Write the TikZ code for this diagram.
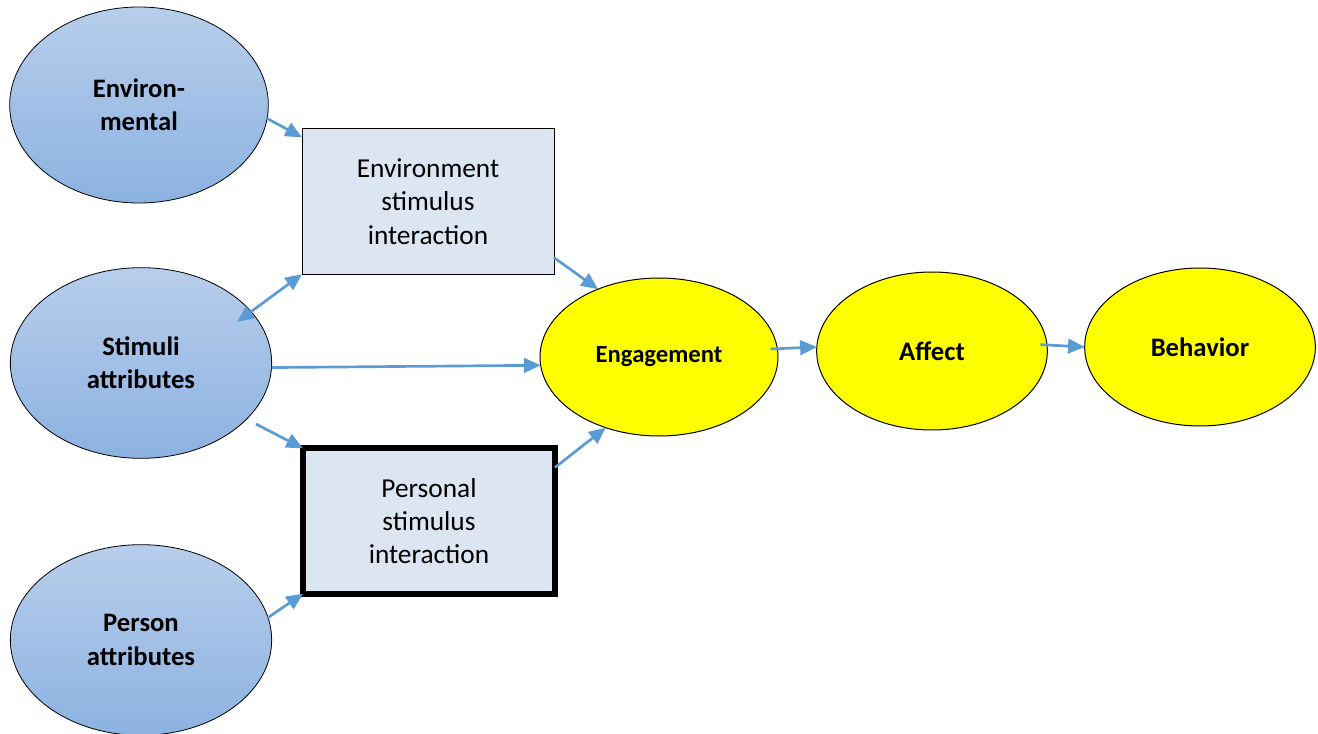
\documentclass[tikz,border=0pt]{standalone}
\usepackage{fontspec}
\setmainfont{Carlito}
\usetikzlibrary{shapes.geometric,arrows.meta}

\definecolor{srctop}{RGB}{183,206,235}
\definecolor{srcbot}{RGB}{140,178,225}
\definecolor{boxfill}{RGB}{220,230,242}
\definecolor{linkblue}{RGB}{91,155,213}
\definecolor{outfill}{RGB}{255,255,0}

\tikzset{every picture/.style={line width=0.75pt}}

\begin{document}
\begin{tikzpicture}[x=0.75pt,y=0.75pt,yscale=-1,xscale=1,
  srcnode/.style={ellipse,draw,line width=0.6pt,top color=srctop,bottom color=srcbot,
    minimum width=196pt,minimum height=143pt,inner sep=0pt,outer sep=0pt,align=center,
    font=\bfseries\fontsize{20}{25}\selectfont},
  boxnode/.style={rectangle,draw,fill=boxfill,minimum width=189pt,minimum height=109pt,
    inner sep=0pt,outer sep=0pt,align=center,font=\fontsize{20.5}{25}\selectfont},
  outnode/.style={ellipse,draw,fill=outfill,minimum width=173pt,minimum height=118.5pt,
    inner sep=0pt,outer sep=0pt,align=center,font=\bfseries\fontsize{20}{25}\selectfont},
  link/.style={draw=linkblue,line width=2pt,-{Triangle[length=12.5pt,width=11pt]}},
  twolink/.style={link,{Triangle[length=12.5pt,width=11pt]}-{Triangle[length=12.5pt,width=11pt]}}]
\useasboundingbox (0,0) rectangle (1318,734);

%Shape: Ellipse [sources]
\node[srcnode,minimum width=194pt,minimum height=147pt] (env) at (139,105) {Environ-\\mental};
\node[srcnode] (stim) at (141,363) {Stimuli\\attributes};
\node[srcnode] (pers) at (141,640) {Person\\attributes};

%Shape: Rectangle [interactions]
\node[boxnode] (envbox) at (428,201.5) {Environment\\stimulus\\interaction};
\node[boxnode,line width=4.5pt] (perbox) at (429,521) {Personal\\stimulus\\interaction};

%Shape: Ellipse [outcomes]
\node[outnode,minimum width=178.5pt,font=\bfseries\fontsize{18.5}{23}\selectfont] (eng) at (659,357) {Engagement};
\node[outnode] (aff) at (932,351) {Affect};
\node[outnode] (beh) at (1200,347) {Behavior};

%Straight Lines
\draw[link] (env.-6) -- (envbox.153);
\draw[twolink,shorten <=-13pt] (stim.25) -- (envbox.south west);
\draw[link] (stim.-2) -- (eng.184);
\draw[link,shorten <=8pt] (stim.-28) -- (perbox.north west);
\draw[link] (pers.10) -- (perbox.south west);
\draw[link] (envbox.-24) -- (eng.132);
\draw[link] (perbox.23) -- (eng.233);
\draw[link,shorten <=-5pt] (eng.4) -- (aff.178);
\draw[link,shorten <=-5pt] (aff.3) -- (beh.180);

\end{tikzpicture}
\end{document}
